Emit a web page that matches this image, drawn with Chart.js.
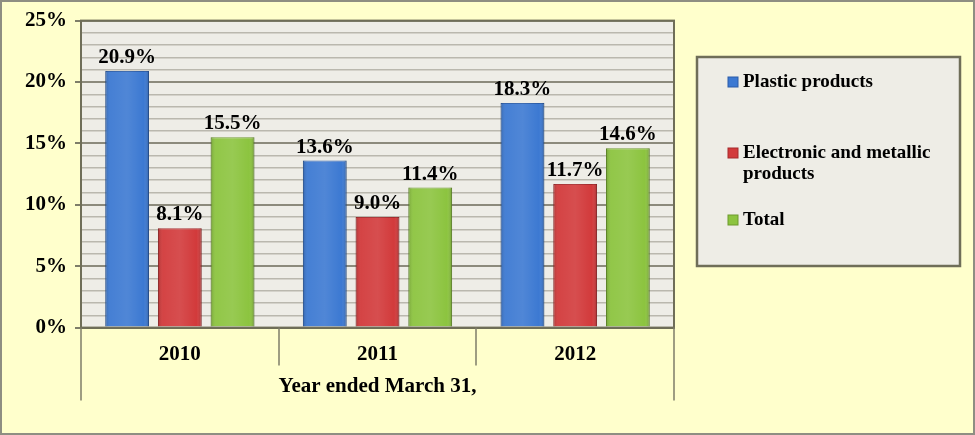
<!DOCTYPE html>
<html>
<head>
<meta charset="utf-8">
<script src="https://cdn.jsdelivr.net/npm/chart.js@4.4.1/dist/chart.umd.min.js"></script>
<style>
  html, body { margin: 0; padding: 0; background: #FFFFCC; }
  #wrap { width: 975px; height: 435px; position: relative; }
</style>
</head>
<body>
<div id="wrap"><canvas id="c"></canvas></div>
<script>
const categories = ['2010', '2011', '2012'];
const plasticProducts = [20.9, 13.6, 18.3];
const electronicMetallic = [8.1, 9.0, 11.7];
const totalValues = [15.5, 11.4, 14.6];
const seriesNames = ['Plastic products', 'Electronic and metallic products', 'Total'];
const axisTitle = 'Year ended March 31,';
const yMin = 0, yMax = 25, yMajorStep = 5, yMinorStep = 1;

const FONT = '"Liberation Serif", "Times New Roman", serif';
const fillColors = ['#3C79D2', '#D23A3B', '#8CC43F'];
const edgeColors = ['#2A5CA8', '#A52A2C', '#6C9A2C'];
const frameColor = '#6F6E58';

const bgPlugin = {
  id: 'bg',
  beforeDraw(chart) {
    const { ctx, chartArea: a, width, height } = chart;
    ctx.save();
    ctx.fillStyle = '#FFFFCC';
    ctx.fillRect(0, 0, width, height);
    ctx.strokeStyle = '#8E8E82';
    ctx.lineWidth = 2;
    ctx.strokeRect(1, 1, width - 2, height - 2);
    ctx.fillStyle = '#EEEDE7';
    ctx.fillRect(a.left, a.top, a.right - a.left, a.bottom - a.top);
    ctx.restore();
  },
  afterDraw(chart) {
    const { ctx, chartArea: a } = chart;
    const xs = chart.scales.x;
    const n = chart.data.labels.length;
    ctx.save();
    // plot frame
    ctx.strokeStyle = frameColor;
    ctx.lineWidth = 2;
    ctx.strokeRect(a.left, a.top, a.right - a.left, a.bottom - a.top);
    // category dividers below the axis
    ctx.strokeStyle = '#7E7D68';
    ctx.lineWidth = 1.5;
    for (let i = 0; i <= n; i++) {
      const x = Math.round(xs.left + i * (xs.right - xs.left) / n);
      const len = (i === 0 || i === n) ? 73 : 38;
      ctx.beginPath(); ctx.moveTo(x, a.bottom); ctx.lineTo(x, a.bottom + len); ctx.stroke();
    }
    // legend
    const lx = a.right + 23, ly = 57, lw = 263, lh = 209;
    ctx.fillStyle = '#EEEDE6';
    ctx.fillRect(lx, ly, lw, lh);
    ctx.strokeStyle = frameColor;
    ctx.lineWidth = 2.5;
    ctx.strokeRect(lx, ly, lw, lh);
    ctx.font = 'bold 19px ' + FONT;
    ctx.textBaseline = 'middle';
    ctx.textAlign = 'left';
    const rowY = [82, 153, 220];
    const maxW = 210;
    chart.data.datasets.forEach((ds, i) => {
      const words = ds.label.split(' ');
      const lines = [];
      let cur = '';
      words.forEach(w => {
        const t = cur ? cur + ' ' + w : w;
        if (ctx.measureText(t).width > maxW && cur) { lines.push(cur); cur = w; } else cur = t;
      });
      lines.push(cur);
      const y = rowY[i];
      ctx.fillStyle = fillColors[i];
      ctx.fillRect(lx + 31, y - 5, 10, 10);
      ctx.strokeStyle = edgeColors[i];
      ctx.lineWidth = 1;
      ctx.strokeRect(lx + 31, y - 5, 10, 10);
      ctx.fillStyle = '#000';
      lines.forEach((ln, k) => ctx.fillText(ln, lx + 46, y + k * 21));
    });
    ctx.restore();
  },
  afterDatasetsDraw(chart) {
    const { ctx } = chart;
    ctx.save();
    chart.data.datasets.forEach((ds, di) => {
      const meta = chart.getDatasetMeta(di);
      meta.data.forEach((bar, i) => {
        const w = bar.width, x0 = bar.x - w / 2, top = bar.y, h = bar.base - bar.y;
        const g = ctx.createLinearGradient(x0, 0, x0 + w, 0);
        g.addColorStop(0, 'rgba(0,0,0,0.18)');
        g.addColorStop(0.12, 'rgba(255,255,255,0.05)');
        g.addColorStop(0.5, 'rgba(255,255,255,0.10)');
        g.addColorStop(0.88, 'rgba(255,255,255,0.0)');
        g.addColorStop(1, 'rgba(0,0,0,0.22)');
        ctx.fillStyle = g;
        ctx.fillRect(x0, top, w, h);
        ctx.fillStyle = '#000';
        ctx.font = 'bold 21px ' + FONT;
        ctx.textAlign = 'center';
        ctx.textBaseline = 'bottom';
        ctx.fillText(ds.data[i].toFixed(1) + '%', bar.x, top - 3);
      });
    });
    ctx.restore();
  }
};

const datasetValues = [plasticProducts, electronicMetallic, totalValues];

new Chart(document.getElementById('c'), {
  type: 'bar',
  data: {
    labels: categories,
    datasets: datasetValues.map((vals, i) => ({
      label: seriesNames[i],
      data: vals,
      backgroundColor: fillColors[i],
      borderColor: edgeColors[i],
      borderWidth: 1,
      categoryPercentage: 0.80,
      barPercentage: 0.83
    }))
  },
  options: {
    responsive: true,
    maintainAspectRatio: false,
    animation: false,
    layout: { padding: { left: 17, right: 301, top: 20, bottom: 36 } },
    plugins: { legend: { display: false }, tooltip: { enabled: false } },
    scales: {
      x: {
        grid: { display: false },
        border: { display: true, color: frameColor, width: 2 },
        ticks: { color: '#000', font: { family: FONT, size: 21, weight: 'bold' }, padding: 6 },
        title: { display: true, text: axisTitle, color: '#000', font: { family: FONT, size: 21, weight: 'bold' }, padding: { top: 1, bottom: 0 } }
      },
      y: {
        min: yMin,
        max: yMax,
        ticks: {
          stepSize: yMinorStep,
          autoSkip: false,
          color: '#000',
          font: { family: FONT, size: 21, weight: 'bold' },
          padding: 8,
          callback: v => (v % yMajorStep === 0 ? v + '%' : '')
        },
        grid: {
          color: c => (c.tick && c.tick.value % yMajorStep === 0 ? '#8C8A7C' : '#BAB8AE'),
          lineWidth: c => (c.tick && c.tick.value % yMajorStep === 0 ? 2 : 1.5),
          tickColor: c => (c.tick && c.tick.value % yMajorStep === 0 ? '#7E7D68' : 'rgba(0,0,0,0)'),
          tickLength: 6
        },
        border: { display: true, color: frameColor, width: 2 }
      }
    }
  },
  plugins: [bgPlugin]
});
</script>
</body>
</html>
